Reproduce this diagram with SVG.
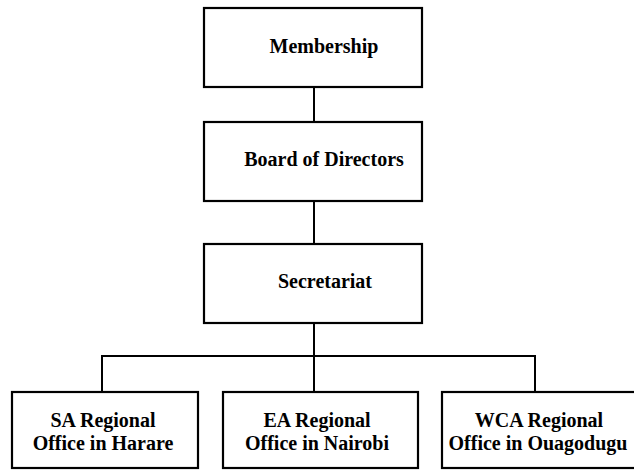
<svg xmlns="http://www.w3.org/2000/svg" width="634" height="471" viewBox="0 0 634 471">
<style>
.box{fill:#fff;stroke:#000;stroke-width:2.2}
.lbl{font-family:"Liberation Serif","Times New Roman",serif;font-weight:bold;font-size:20px;fill:#000;text-anchor:middle}
.con{fill:none;stroke:#000;stroke-width:2}
</style>
<rect width="634" height="471" fill="#fff"/>
<g id="connectors">
<line class="con" x1="314" y1="87" x2="314" y2="122"/>
<line class="con" x1="314" y1="201" x2="314" y2="244"/>
<line class="con" x1="314" y1="323" x2="314" y2="392"/>
<polyline class="con" points="102,392 102,356 535,356 535,392"/>
</g>
<g id="membership">
<rect class="box" x="204" y="8" width="218" height="79"/>
<text class="lbl" x="324" y="53">Membership</text>
</g>
<g id="board">
<rect class="box" x="204" y="122" width="218" height="79"/>
<text class="lbl" x="324" y="166">Board of Directors</text>
</g>
<g id="secretariat">
<rect class="box" x="204" y="244" width="218" height="79"/>
<text class="lbl" x="325" y="288">Secretariat</text>
</g>
<g id="sa">
<rect class="box" x="12" y="392" width="186" height="76"/>
<text class="lbl" x="103" y="427">SA Regional</text>
<text class="lbl" x="103" y="450">Office in Harare</text>
</g>
<g id="ea">
<rect class="box" x="223" y="392" width="195" height="76"/>
<text class="lbl" x="317" y="427">EA Regional</text>
<text class="lbl" x="317" y="450">Office in Nairobi</text>
</g>
<g id="wca">
<rect class="box" x="442" y="392" width="194" height="76"/>
<text class="lbl" x="539" y="427">WCA Regional</text>
<text class="lbl" x="538" y="450">Office in Ouagodugu</text>
</g>
</svg>
